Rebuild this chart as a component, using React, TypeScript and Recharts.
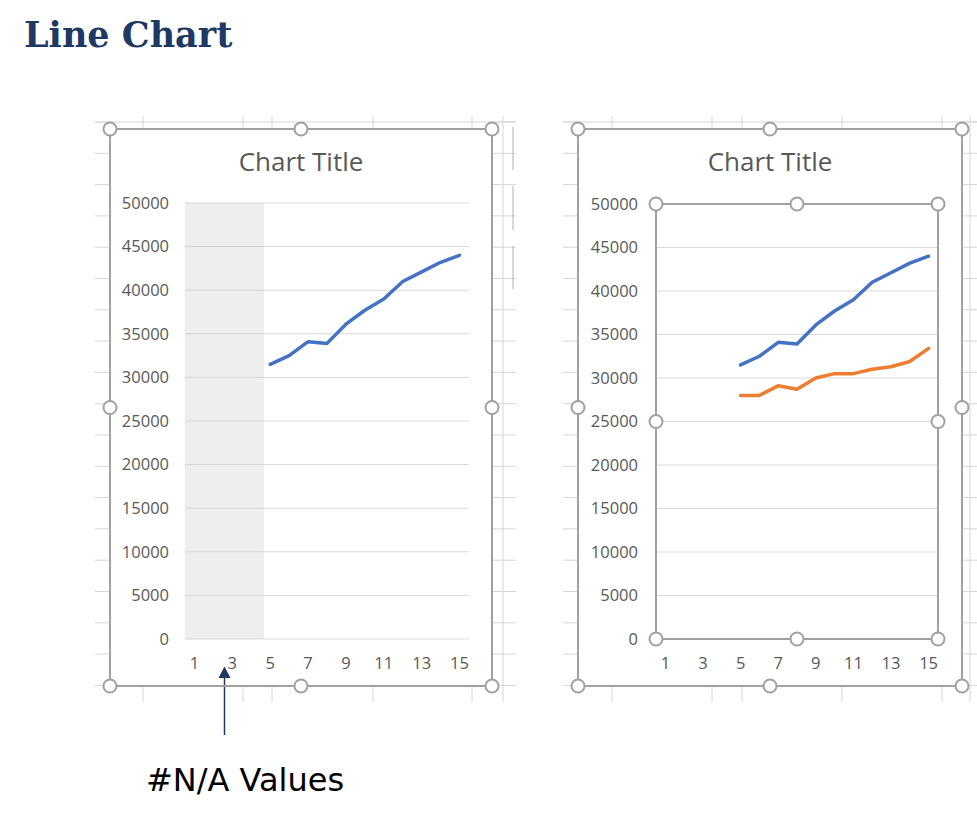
import React from 'react';
import { LineChart, Line, XAxis, YAxis, CartesianGrid, ReferenceArea } from 'recharts';

// worksheet data (#N/A -> null)
const categories = [1, 2, 3, 4, 5, 6, 7, 8, 9, 10, 11, 12, 13, 14, 15];
const salesValues = [null, null, null, null, 31500, 32500, 34100, 33900, 36100, 37700, 39000, 41000, 42100, 43200, 44000];
const targetValues = [null, null, null, null, 28000, 28000, 29100, 28700, 30000, 30500, 30500, 31000, 31300, 31900, 33400];
const yTicks = [0, 5000, 10000, 15000, 20000, 25000, 30000, 35000, 40000, 45000, 50000];
const xTicks = [1, 3, 5, 7, 9, 11, 13, 15];
const naRange = [0.5, 4.67];

const leftData = categories.map((c, i) => ({ x: c, sales: salesValues[i] }));
const rightData = categories.map((c, i) => ({ x: c, sales: salesValues[i], target: targetValues[i] }));

const FONT = '"Open Sans", "Noto Sans", sans-serif';
const tickStyle = { fill: '#595959', fontSize: 16.5, fontFamily: FONT };
const GRID = '#d9d9d9';
const CELL = '#d6d6d6';
const FRAME = '#a0a0a0';

const Handles = ({ x1, y1, x2, y2 }: { x1: number; y1: number; x2: number; y2: number }) => {
  const mx = (x1 + x2) / 2;
  const my = (y1 + y2) / 2;
  const pts = [[x1, y1], [mx, y1], [x2, y1], [x1, my], [x2, my], [x1, y2], [mx, y2], [x2, y2]];
  return (
    <g>
      <rect x={x1} y={y1} width={x2 - x1} height={y2 - y1} fill="none" stroke={FRAME} strokeWidth={2} />
      {pts.map(([x, y], i) => (
        <circle key={i} cx={x} cy={y} r={6.5} fill="#fff" stroke={FRAME} strokeWidth={2} />
      ))}
    </g>
  );
};

// excel cell grid peeking around the charts
const CellGrid = () => {
  const rows = Array.from({ length: 19 }, (_, k) => 122 + k * 31.3);
  const leftCols = [143, 243, 272, 373, 472];
  const rightCols = [612, 712, 742, 842, 942];
  return (
    <g stroke={CELL} strokeWidth={1}>
      <line x1={95} y1={122} x2={515} y2={122} />
      <line x1={563} y1={122} x2={977} y2={122} />
      {rows.map((y, i) => (
        <g key={i}>
          <line x1={95} y1={y} x2={110} y2={y} />
          <line x1={492} y1={y} x2={516} y2={y} />
          <line x1={563} y1={y} x2={578} y2={y} />
          <line x1={962} y1={y} x2={977} y2={y} />
        </g>
      ))}
      {[...leftCols, ...rightCols].map((x, i) => (
        <g key={i}>
          <line x1={x} y1={116} x2={x} y2={129} />
          <line x1={x} y1={686} x2={x} y2={702} />
        </g>
      ))}
      <line x1={503} y1={116} x2={503} y2={702} />
      <line x1={970} y1={116} x2={970} y2={702} />
      <line x1={513} y1={127} x2={513} y2={170} stroke="#b0b0b0" />
      <line x1={513} y1={186} x2={513} y2={230} stroke="#b0b0b0" />
      <line x1={513} y1={246} x2={513} y2={289} stroke="#b0b0b0" />
    </g>
  );
};

export default function App() {
  return (
    <div style={{ position: 'absolute', left: 0, top: 0, width: 977, height: 824, background: '#fff', overflow: 'hidden' }}>
      <svg width={977} height={824} style={{ position: 'absolute', left: 0, top: 0 }}>
        <CellGrid />
        <text x={24} y={47} fontFamily='"DejaVu Serif", serif' fontWeight="bold" fontSize={35} fill="#1f3864">
          Line Chart
        </text>
        <line x1={224.5} y1={735} x2={224.5} y2={676} stroke="#1f3864" strokeWidth={1.5} />
        <polygon points="224.5,666.5 218.5,678 230.5,678" fill="#1f3864" />
        <text x={146} y={791} fontFamily='"DejaVu Sans", sans-serif' fontSize={32} fill="#000">
          #N/A Values
        </text>
      </svg>

      <div style={{ position: 'absolute', left: 110, top: 129 }}>
        <LineChart width={382} height={557} data={leftData} margin={{ top: 74, right: 23, bottom: 0, left: 0 }}>
          <CartesianGrid vertical={false} stroke={GRID} />
          <ReferenceArea x1={naRange[0]} x2={naRange[1]} y1={0} y2={50000} fill="#c8c8c8" fillOpacity={0.3} stroke="none" ifOverflow="hidden" />
          <XAxis dataKey="x" type="number" domain={[0.5, 15.5]} ticks={xTicks} interval={0} height={47}
            axisLine={false} tickLine={false} tickSize={0} tickMargin={18} tick={tickStyle} allowDataOverflow />
          <YAxis type="number" domain={[0, 50000]} ticks={yTicks} interval={0} width={75}
            axisLine={false} tickLine={false} tickSize={0} tickMargin={16} tick={tickStyle} />
          <Line dataKey="sales" stroke="#4472c4" strokeWidth={3.5} dot={false} isAnimationActive={false} type="linear" strokeLinejoin="round" strokeLinecap="round" />
        </LineChart>
      </div>

      <div style={{ position: 'absolute', left: 578, top: 129 }}>
        <LineChart width={384} height={557} data={rightData} margin={{ top: 75, right: 24, bottom: 0, left: 0 }}>
          <CartesianGrid vertical={false} stroke={GRID} />
          <XAxis dataKey="x" type="number" domain={[0.5, 15.5]} ticks={xTicks} interval={0} height={47}
            axisLine={false} tickLine={false} tickSize={0} tickMargin={18} tick={tickStyle} allowDataOverflow />
          <YAxis type="number" domain={[0, 50000]} ticks={yTicks} interval={0} width={78}
            axisLine={false} tickLine={false} tickSize={0} tickMargin={18} tick={tickStyle} />
          <Line dataKey="sales" stroke="#4472c4" strokeWidth={3.5} dot={false} isAnimationActive={false} type="linear" strokeLinejoin="round" strokeLinecap="round" />
          <Line dataKey="target" stroke="#ed7d31" strokeWidth={3.5} dot={false} isAnimationActive={false} type="linear" strokeLinejoin="round" strokeLinecap="round" />
        </LineChart>
      </div>

      <svg width={977} height={824} style={{ position: 'absolute', left: 0, top: 0, pointerEvents: 'none' }}>
        <text x={301} y={171} textAnchor="middle" fontFamily={FONT} fontSize={26} fill="#595959">Chart Title</text>
        <text x={770} y={171} textAnchor="middle" fontFamily={FONT} fontSize={26} fill="#595959">Chart Title</text>
        <Handles x1={110} y1={129} x2={492} y2={686} />
        <Handles x1={578} y1={129} x2={962} y2={686} />
        <Handles x1={656} y1={204} x2={938} y2={639} />
      </svg>
    </div>
  );
}
